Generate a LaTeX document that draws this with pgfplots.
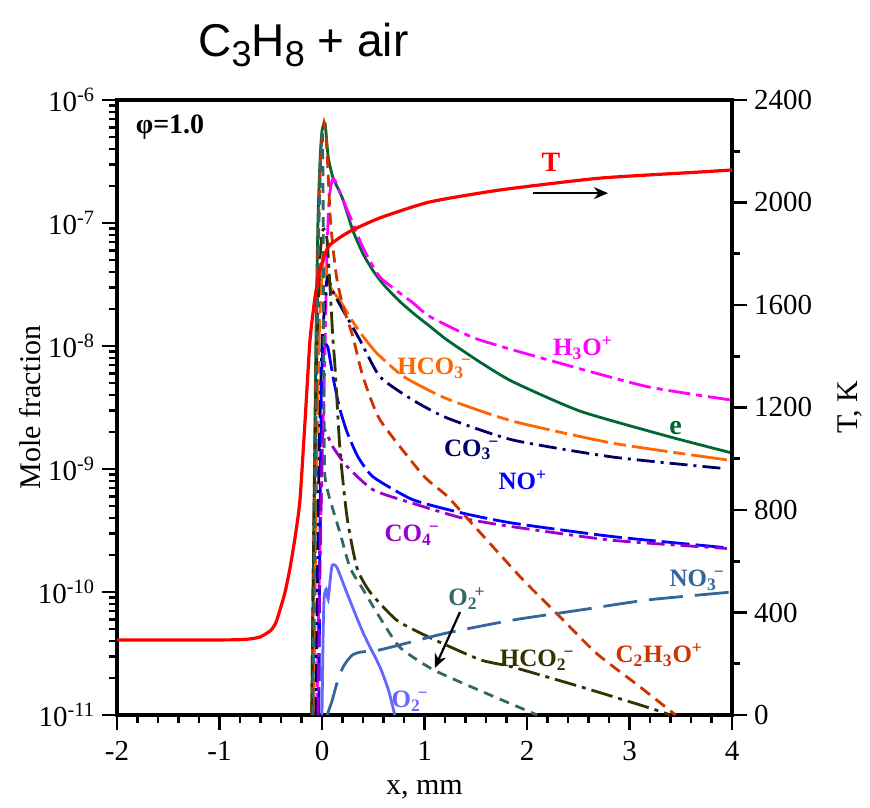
\documentclass[border=0pt]{standalone}
\usepackage{fontspec}
\setmainfont{Liberation Serif}
\newfontfamily\titlefont{Liberation Sans}
\usepackage{pgfplots}
\pgfplotsset{compat=1.18}
\usetikzlibrary{arrows.meta}
\definecolor{cE}{HTML}{006633}
\definecolor{cH3O}{HTML}{FF00FF}
\definecolor{cHCO3}{HTML}{FF6600}
\definecolor{cCO3}{HTML}{000066}
\definecolor{cNO}{HTML}{0000FF}
\definecolor{cCO4}{HTML}{9900CC}
\definecolor{cC2H3O}{HTML}{CC3300}
\definecolor{cHCO2}{HTML}{333300}
\definecolor{cO2p}{HTML}{336666}
\definecolor{cO2m}{HTML}{6666FF}
\definecolor{cNO3}{HTML}{336699}
\definecolor{cT}{HTML}{FF0000}
\newcommand{\tf}{\fontsize{14.5}{17}\selectfont}
\newcommand{\tl}[1]{\mbox{\tf #1}}
\newcommand{\labfont}{\fontsize{15}{18}\selectfont}
\newcommand{\subsup}[2]{\textsubscript{#1}\kern-0.12em\textsuperscript{#2}}
\newcommand{\tp}[1]{\mbox{\tf 10\textsuperscript{#1}}}
\begin{document}
\begin{tikzpicture}
\useasboundingbox (-58.5pt,-46pt) rectangle (376.5pt,357.5pt);
\begin{axis}[
  scale only axis, width=307.5pt, height=307.5pt,
  xmin=-2, xmax=4, ymode=log, ymin=1e-11, ymax=1e-6,
  enlargelimits=false,
  tick pos=left, tick align=outside,
  xtick={-2,-1,0,1,2,3,4}, xticklabels={\tl{-2},\tl{-1},\tl{0},\tl{1},\tl{2},\tl{3},\tl{4}},
  minor x tick num=4,
  ytick={1e-11,1e-10,1e-9,1e-8,1e-7,1e-6},
  yticklabels={\tp{-11},\tp{-10},\tp{-9},\tp{-8},\tp{-7},\tp{-6}},
  minor ytick={2e-11,3e-11,4e-11,5e-11,6e-11,7e-11,8e-11,9e-11,
               2e-10,3e-10,4e-10,5e-10,6e-10,7e-10,8e-10,9e-10,
               2e-9,3e-9,4e-9,5e-9,6e-9,7e-9,8e-9,9e-9,
               2e-8,3e-8,4e-8,5e-8,6e-8,7e-8,8e-8,9e-8,
               2e-7,3e-7,4e-7,5e-7,6e-7,7e-7,8e-7,9e-7},
  major tick length=7.5pt, minor tick length=4pt,
  tick style={black, line width=1.3pt},
  axis line style={line width=1.6pt},
  xticklabel style={yshift=-2pt},
  xlabel={x, mm}, ylabel={Mole fraction},
  xlabel style={font=\labfont, at={(rel axis cs:0.5,-0.122)}, anchor=center},
  ylabel style={font=\labfont, at={(rel axis cs:-0.1415,0.5)}, anchor=center},
  every axis plot/.append style={line width=1.4pt},
]
% e
\addplot[cE, smooth, tension=0.35] coordinates {
(-0.10,1e-11) (-0.08,3.16e-10) (-0.06,1e-8) (-0.04,1e-7) (-0.02,3.16e-7) (0.00,5.62e-7) (0.03,6.46e-7) (0.06,3.47e-7) (0.107,2.34e-7) (0.2,1.585e-7) (0.3,8.71e-8) (0.4,5.62e-8) (0.5,4.07e-8) (0.6,3.16e-8) (0.75,2.34e-8) (0.9,1.82e-8) (1.05,1.45e-8) (1.22,1.12e-8) (1.54,7.41e-9) (1.86,5.13e-9) (2.52,2.95e-9) (3.40,1.82e-9) (4.0,1.35e-9)};
% H3O+
\addplot[cH3O, smooth, tension=0.35, dash pattern=on 11pt off 3pt on 3pt off 3pt] coordinates {
(-0.05,1e-11) (-0.03,1e-10) (0.0,1e-9) (0.03,1e-8) (0.05,6.31e-8) (0.07,1.58e-7) (0.1,2.24e-7) (0.13,2.19e-7) (0.2,1.58e-7) (0.3,1e-7) (0.4,6.31e-8) (0.566,3.63e-8) (0.888,2.24e-8) (1.05,1.74e-8) (1.5,1.15e-8) (2.195,7.76e-9) (3.17,4.68e-9) (4.0,3.63e-9)};
% HCO3-
\addplot[cHCO3, smooth, tension=0.35, dash pattern=on 18pt off 3pt on 6pt off 3pt] coordinates {
(-0.08,1e-11) (-0.06,3.16e-10) (-0.03,1e-8) (0.0,3.98e-8) (0.02,5.01e-8) (0.05,3.55e-8) (0.1,2.82e-8) (0.176,2.34e-8) (0.3,1.58e-8) (0.40,1.20e-8) (0.537,8.71e-9) (0.8,5.62e-9) (1.22,3.72e-9) (1.86,2.45e-9) (2.84,1.62e-9) (4.0,1.17e-9)};
% CO3-
\addplot[cCO3, smooth, tension=0.35, dash pattern=on 9pt off 3pt on 1.5pt off 3pt] coordinates {
(-0.06,1e-11) (-0.03,1e-9) (0.0,1e-8) (0.05,3.55e-8) (0.1,2.82e-8) (0.205,1.95e-8) (0.37,1.12e-8) (0.566,5.62e-9) (0.888,3.63e-9) (1.22,2.60e-9) (1.863,1.72e-9) (2.84,1.25e-9) (3.92,1.01e-9)};
% NO+
\addplot[cNO, smooth, tension=0.35, dash pattern=on 14pt off 3pt] coordinates {
(-0.03,1e-11) (-0.02,3.16e-10) (-0.005,5.01e-9) (0.01,1e-8) (0.03,1.05e-8) (0.06,9.55e-9) (0.107,5.62e-9) (0.17,3.16e-9) (0.244,2.0e-9) (0.35,1.26e-9) (0.5,8.61e-10) (0.888,5.62e-10) (1.376,4.37e-10) (1.863,3.63e-10) (2.84,2.82e-10) (3.95,2.29e-10)};
% CO4-
\addplot[cCO4, smooth, tension=0.35, dash pattern=on 9pt off 3pt on 2pt off 3pt] coordinates {
(-0.04,1e-11) (-0.02,1.58e-10) (0.0,1.26e-9) (0.01,2.09e-9) (0.04,2.0e-9) (0.107,1.51e-9) (0.244,1.05e-9) (0.5,6.76e-10) (0.888,5.25e-10) (1.376,3.98e-10) (1.863,3.39e-10) (2.84,2.63e-10) (3.95,2.26e-10)};
% C2H3O+
\addplot[cC2H3O, smooth, tension=0.35, dash pattern=on 6pt off 3.5pt] coordinates {
(-0.1,1e-11) (-0.08,3.16e-10) (-0.06,6.31e-9) (-0.04,6.31e-8) (-0.02,2.51e-7) (0.0,5.01e-7) (0.02,6.61e-7) (0.04,5.01e-7) (0.06,2.51e-7) (0.08,1.12e-7) (0.107,6.31e-8) (0.146,3.47e-8) (0.205,2.09e-8) (0.3,1.20e-8) (0.4,5.62e-9) (0.566,2.51e-9) (0.985,8.91e-10) (1.22,6.03e-10) (1.47,3.55e-10) (1.96,1.26e-10) (2.32,6.31e-11) (2.68,3.16e-11) (3.1,1.70e-11) (3.45,1e-11)};
% HCO2-
\addplot[cHCO2, smooth, tension=0.35, dash pattern=on 11pt off 3pt on 2pt off 3pt] coordinates {
(-0.1,1e-11) (-0.08,3.16e-10) (-0.05,1e-8) (-0.02,5.01e-8) (0.0,8.32e-8) (0.02,8.91e-8) (0.05,7.24e-8) (0.078,3.02e-8) (0.107,1.12e-8) (0.127,6.76e-9) (0.176,1.41e-9) (0.244,4.07e-10) (0.34,1.58e-10) (0.468,1e-10) (0.73,5.89e-11) (1.05,4.27e-11) (1.54,2.82e-11) (1.863,2.45e-11) (2.52,1.70e-11) (3.17,1.16e-11) (3.4,1e-11)};
% O2+
\addplot[cO2p, smooth, tension=0.35, dash pattern=on 5pt off 3.5pt] coordinates {
(-0.09,1e-11) (-0.07,3.16e-10) (-0.05,1e-8) (-0.03,1e-7) (-0.01,3.98e-7) (0.005,5.01e-7) (0.012,1e-7) (0.018,5.01e-9) (0.025,1e-9) (0.04,7.59e-10) (0.078,5.62e-10) (0.176,3.02e-10) (0.273,1.58e-10) (0.40,1.05e-10) (0.566,6.17e-11) (0.76,3.55e-11) (1.083,2.34e-11) (1.54,1.58e-11) (2.1,1e-11)};
% O2-
\addplot[cO2m, smooth, tension=0.35] coordinates {
(0.0,1e-11) (0.01,3.98e-11) (0.02,8.91e-11) (0.04,1.05e-10) (0.06,8.71e-11) (0.08,1.26e-10) (0.1,1.66e-10) (0.146,1.58e-10) (0.244,9.77e-11) (0.4,4.68e-11) (0.566,2.45e-11) (0.65,1.58e-11) (0.71,1e-11)};
% NO3-
\addplot[cNO3, smooth, tension=0.35, dash pattern=on 17pt off 6pt] coordinates {
(0.05,1e-11) (0.1,1.32e-11) (0.146,1.82e-11) (0.2,2.40e-11) (0.244,2.75e-11) (0.3,3.09e-11) (0.37,3.24e-11) (0.566,3.39e-11) (0.83,3.85e-11) (1.22,4.65e-11) (1.863,5.92e-11) (2.52,7.14e-11) (3.17,8.61e-11) (4.0,1e-10)};
% labels
\begin{scope}[font=\bfseries\fontsize{12.5}{14}\selectfont]
\node[cH3O] at (axis cs:2.546,9.6e-9) {H\textsubscript{3}O\textsuperscript{+}};
\node[cHCO3] at (axis cs:1.10,6.6e-9) {HCO\subsup{3}{−}};
\node[cE, font=\bfseries\fontsize{14}{16}\selectfont] at (axis cs:3.45,2.15e-9) {e};
\node[cCO3] at (axis cs:1.46,1.43e-9) {CO\subsup{3}{−}};
\node[cNO] at (axis cs:1.96,8.1e-10) {NO\textsuperscript{+}};
\node[cCO4] at (axis cs:0.88,2.9e-10) {CO\subsup{4}{−}};
\node[cNO3] at (axis cs:3.66,1.25e-10) {NO\subsup{3}{−}};
\node[cO2p] at (axis cs:1.415,8.9e-11) {O\subsup{2}{+}};
\node[cHCO2] at (axis cs:2.10,2.8e-11) {HCO\subsup{2}{−}};
\node[cC2H3O] at (axis cs:3.29,3.07e-11) {C\textsubscript{2}H\textsubscript{3}O\textsuperscript{+}};
\node[cO2m] at (axis cs:0.86,1.3e-11) {O\subsup{2}{−}};
\node[cT, font=\bfseries\fontsize{14}{16}\selectfont] at (axis cs:2.234,3.13e-7) {T};
\node[black, font=\bfseries\fontsize{14}{16}\selectfont] at (axis cs:-1.483,6.03e-7) {φ=1.0};
\end{scope}
\draw[black, line width=1.2pt, -{Stealth[length=7pt,width=6pt]}] (axis cs:2.06,1.75e-7) -- (axis cs:2.79,1.75e-7);
\draw[black, line width=1.1pt, -{Stealth[length=7pt,width=6pt]}] (axis cs:1.346,6.87e-11) -- (axis cs:1.10,2.41e-11);
\end{axis}
\begin{axis}[
  scale only axis, width=307.5pt, height=307.5pt,
  xmin=-2, xmax=4, ymin=0, ymax=2400,
  enlargelimits=false,
  axis x line=none, axis y line*=right,
  tick align=outside,
  ytick={0,400,800,1200,1600,2000,2400},
  yticklabels={\tl{0},\tl{400},\tl{800},\tl{1200},\tl{1600},\tl{2000},\tl{2400}},
  minor y tick num=1,
  major tick length=7.5pt, minor tick length=4pt,
  tick style={black, line width=1.3pt},
  axis line style={line width=1.6pt},
  ylabel={T, K},
  ylabel style={font=\labfont, at={(rel axis cs:1.192,0.5)}, anchor=center},
]
\addplot[cT, line width=1.6pt, smooth, tension=0.35] coordinates {
(-2,293) (-1,293) (-0.8,294) (-0.7,297) (-0.6,305) (-0.5,330) (-0.45,360) (-0.41,410) (-0.36,480) (-0.31,578) (-0.26,700) (-0.215,839) (-0.165,1150) (-0.117,1463) (-0.068,1631) (-0.02,1737) (0.03,1800) (0.078,1835) (0.2,1870) (0.3,1893) (0.566,1940) (1.05,2002) (1.74,2049) (2.71,2095) (3.69,2119) (4,2127)};
\end{axis}
\node[font=\titlefont\fontsize{23}{26}\selectfont, anchor=base] at (93.25pt,329pt) {C\raisebox{-5pt}{\fontsize{18}{20}\selectfont 3}H\raisebox{-5pt}{\fontsize{18}{20}\selectfont 8} + air};
\end{tikzpicture}
\end{document}
